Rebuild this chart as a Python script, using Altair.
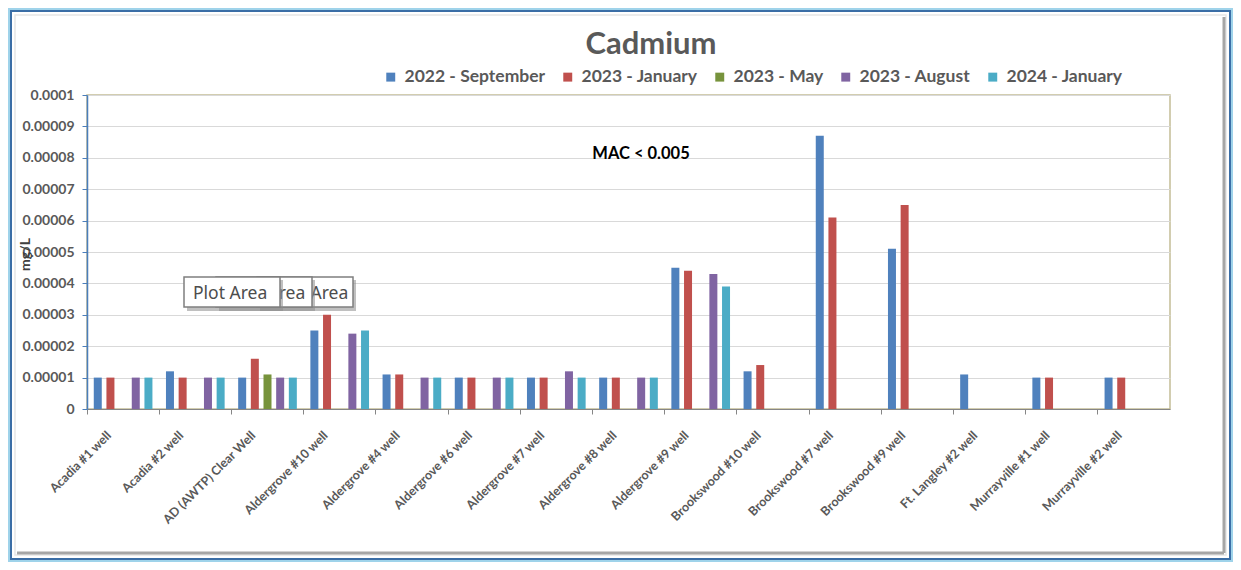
import altair as alt
import pandas as pd

categories = ["Acadia #1 well", "Acadia #2 well", "AD (AWTP) Clear Well", "Aldergrove #10 well",
              "Aldergrove #4 well", "Aldergrove #6 well", "Aldergrove #7 well", "Aldergrove #8 well",
              "Aldergrove #9 well", "Brookswood #10 well", "Brookswood #7 well", "Brookswood #9 well",
              "Ft. Langley #2 well", "Murrayville #1 well", "Murrayville #2 well"]
series = ["2022 - September", "2023 - January", "2023 - May", "2023 - August", "2024 - January"]
colors = ["#4f81bd", "#c0504d", "#77933c", "#8064a2", "#4bacc6"]

sep_2022 = [1.0e-5, 1.2e-5, 1.0e-5, 2.5e-5, 1.1e-5, 1.0e-5, 1.0e-5, 1.0e-5, 4.5e-5, 1.2e-5, 8.7e-5, 5.1e-5, 1.1e-5, 1.0e-5, 1.0e-5]
jan_2023 = [1.0e-5, 1.0e-5, 1.6e-5, 3.0e-5, 1.1e-5, 1.0e-5, 1.0e-5, 1.0e-5, 4.4e-5, 1.4e-5, 6.1e-5, 6.5e-5, None, 1.0e-5, 1.0e-5]
may_2023 = [None, None, 1.1e-5, None, None, None, None, None, None, None, None, None, None, None, None]
aug_2023 = [1.0e-5, 1.0e-5, 1.0e-5, 2.4e-5, 1.0e-5, 1.0e-5, 1.2e-5, 1.0e-5, 4.3e-5, None, None, None, None, None, None]
jan_2024 = [1.0e-5, 1.0e-5, 1.0e-5, 2.5e-5, 1.0e-5, 1.0e-5, 1.0e-5, 1.0e-5, 3.9e-5, None, None, None, None, None, None]

y_ticks = [0, 0.00001, 0.00002, 0.00003, 0.00004, 0.00005, 0.00006, 0.00007, 0.00008, 0.00009, 0.0001]

rows = []
for s, vals in zip(series, [sep_2022, jan_2023, may_2023, aug_2023, jan_2024]):
    for c, v in zip(categories, vals):
        if v is not None:
            rows.append({"site": c, "series": s, "value": v})
df = pd.DataFrame(rows)

W, H = 1083, 314
FONT = "Lato"
GRAY = "#595959"

bars = alt.Chart(df).mark_bar(size=8).encode(
    x=alt.X("site:N", sort=categories,
            scale=alt.Scale(domain=categories, paddingInner=0, paddingOuter=0),
            axis=alt.Axis(title=None, bandPosition=0, labelAngle=315, labelAlign="right",
                          labelBaseline="middle", labelOffset=-14, labelPadding=19,
                          labelFont=FONT, labelFontSize=12.5, labelFontWeight="bold",
                          labelColor=GRAY, domainColor="#868686", tickColor="#868686",
                          tickSize=5, grid=False)),
    xOffset=alt.XOffset("series:N", sort=series,
                        scale=alt.Scale(domain=series, paddingInner=0.4, paddingOuter=0.55)),
    y=alt.Y("value:Q", scale=alt.Scale(domain=[0, 0.0001], nice=False),
            axis=alt.Axis(title="mg/L", values=y_ticks,
                          labelExpr="datum.value == 0 ? '0' : format(datum.value, '.5~f')",
                          labelFont=FONT, labelFontSize=14, labelFontWeight="bold", labelColor=GRAY,
                          labelPadding=8, domainColor="#4a7ebb", domainWidth=1.5,
                          tickColor="#4a7ebb", tickSize=5, gridColor="#d9d9d9",
                          titleFont=FONT, titleFontSize=14, titleFontWeight="bold",
                          titleColor="#404040", titleX=-55, titleY=159)),
    color=alt.Color("series:N", sort=series, scale=alt.Scale(domain=series, range=colors),
                    legend=alt.Legend(title=None, orient="none", legendX=295, legendY=-27,
                                      direction="horizontal", symbolType="square", symbolSize=80,
                                      symbolStrokeWidth=0, labelFont=FONT, labelFontSize=17.5,
                                      labelFontWeight="bold", labelColor=GRAY, columnPadding=13,
                                      labelOffset=5, padding=0)),
)

one = pd.DataFrame({"d": [0]})


def rect(x, x2, y, y2, **kw):
    return alt.Chart(one).mark_rect(**kw).encode(
        x=alt.value(x), x2=alt.value(x2), y=alt.value(y), y2=alt.value(y2))


def rule(x, x2, y, y2, **kw):
    return alt.Chart(one).mark_rule(**kw).encode(
        x=alt.value(x), x2=alt.value(x2), y=alt.value(y), y2=alt.value(y2))


def label(text, x, y, **kw):
    return alt.Chart(one).mark_text(text=text, **kw).encode(x=alt.value(x), y=alt.value(y))


frame = [
    rect(-78, 1145, -86, 466, filled=False, stroke="#9fd3ea", strokeWidth=3),
    rect(-76, 1143, -84, 464, filled=False, stroke="#3b6ea6", strokeWidth=2),
    rect(-72, 1139, -80, 460, filled=False, stroke="#e6e6e6", strokeWidth=1.5),
    rule(1137, 1137, -78, 458, stroke="#a6a6a6", strokeWidth=3),
    rule(-70, 1137, 458, 458, stroke="#a6a6a6", strokeWidth=3),
]

title = label("Cadmium", 564, -41, font=FONT, fontSize=31, fontWeight="bold", color=GRAY,
              align="center", baseline="alphabetic")
mac = label("MAC  < 0.005", 554, 64, font=FONT, fontSize=16.5, fontWeight="bold", color="#000000",
            align="center", baseline="alphabetic")


def tip(x0, inset):
    return [
        rect(x0 + 3, x0 + 99, 185, 216, fill="#8c8c8c", opacity=0.55),
        rect(x0, x0 + 96, 182, 212, fill="#ffffff", stroke="#7f7f7f", strokeWidth=1.5),
        label("Plot Area", x0 + inset, 204, font="Noto Sans", fontSize=17.5, color="#4d4d4d",
              align="left", baseline="alphabetic"),
    ]


tips = tip(170, 17) + tip(129, 15) + tip(97, 9)

chart = alt.layer(*frame, bars, title, mac, *tips).properties(
    width=W, height=H,
    padding={"left": 79, "top": 87, "right": 63, "bottom": 153},
    autosize=alt.AutoSizeParams(type="none"),
    background="#ffffff",
).configure_view(stroke="#c4bd97", strokeWidth=1.5)

chart.save("out.html", embed_options={"renderer": "svg", "actions": False})
